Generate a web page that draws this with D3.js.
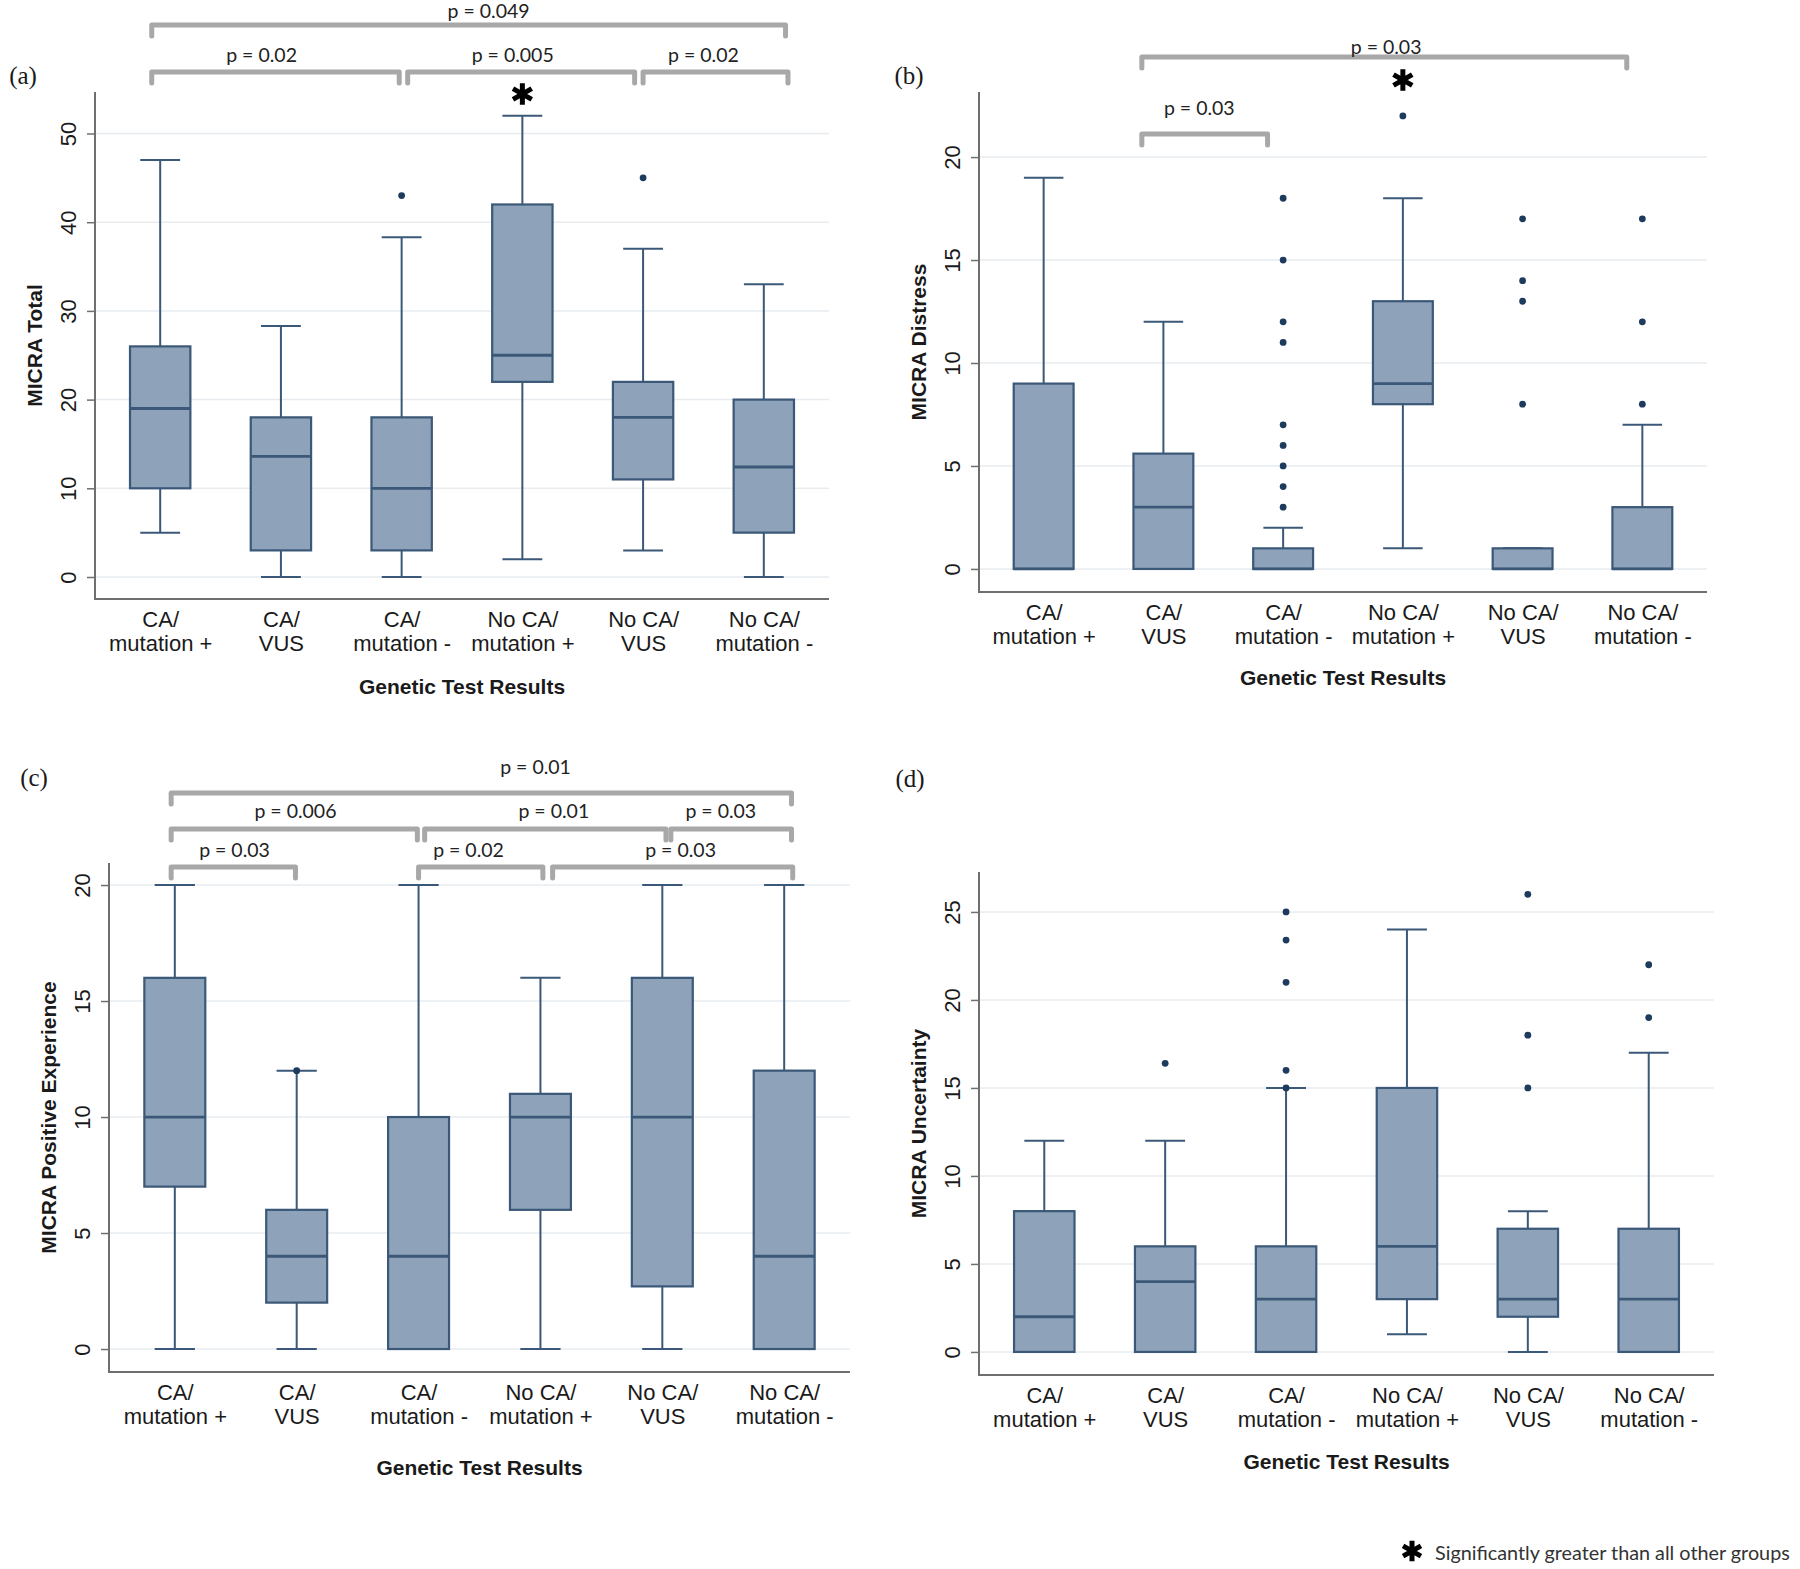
<!DOCTYPE html>
<html><head><meta charset="utf-8">
<script src="https://cdn.jsdelivr.net/npm/d3@7"></script>
<style>body{margin:0;background:#fff}</style>
</head><body>
<svg id="chart" width="1800" height="1569"></svg>
<script>
// ---------- DATA ----------
const categories = [["CA/","mutation +"],["CA/","VUS"],["CA/","mutation -"],["No CA/","mutation +"],["No CA/","VUS"],["No CA/","mutation -"]];

// each row: [lower whisker, Q1, median, Q3, upper whisker]
const totalStats = [[5,10,19,26,47],[0,3,13.6,18,28.3],[0,3,10,18,38.3],[2,22,25,42,52],[3,11,18,22,37],[0,5,12.4,20,33]];
const totalOutliers = [[],[],[43],[],[45],[]];
const totalTicks = [0,10,20,30,40,50];

const distressStats = [[0,0,0,9,19],[0,0,3,5.6,12],[0,0,0,1,2],[1,8,9,13,18],[0,0,0,1,1],[0,0,0,3,7]];
const distressOutliers = [[],[],[3,4,5,6,7,11,12,15,18],[22],[8,13,14,17],[8,12,17]];
const distressTicks = [0,5,10,15,20];

const positiveStats = [[0,7,10,16,20],[0,2,4,6,12],[0,0,4,10,20],[0,6,10,11,16],[0,2.7,10,16,20],[0,0,4,12,20]];
const positiveOutliers = [[],[12],[],[],[],[]];
const positiveTicks = [0,5,10,15,20];

const uncertaintyStats = [[0,0,2,8,12],[0,0,4,6,12],[0,0,3,6,15],[1,3,6,15,24],[0,2,3,7,8],[0,0,3,7,17]];
const uncertaintyOutliers = [[],[16.4],[15,16,21,23.4,25],[],[15,18,26],[19,22]];
const uncertaintyTicks = [0,5,10,15,20,25];

// significance brackets: [from (category index), to (category index), level, label, label position (category index)]
const totalBrackets = [[-0.07,5.18,0,"p = 0.049",2.72],[-0.07,1.98,1,"p = 0.02",0.84],[2.05,3.93,1,"p = 0.005",2.92],[4.0,5.2,1,"p = 0.02",4.5]];
const distressBrackets = [[0.82,4.87,0,"p = 0.03",2.86],[0.82,1.87,1,"p = 0.03",1.3]];
const positiveBrackets = [[-0.03,5.06,0,"p = 0.01",2.96],[-0.03,1.99,1,"p = 0.006",0.99],[2.05,4.03,1,"p = 0.01",3.11],[4.07,5.06,1,"p = 0.03",4.48],
                          [-0.03,0.99,2,"p = 0.03",0.49],[2.0,3.02,2,"p = 0.02",2.41],[3.1,5.07,2,"p = 0.03",4.15]];
const uncertaintyBrackets = [];

const panelLetters = ["(a)","(b)","(c)","(d)"];
const yTitles = ["MICRA Total","MICRA Distress","MICRA Positive Experience","MICRA Uncertainty"];
const xTitle = "Genetic Test Results";
const footnote = "Significantly greater than all other groups";

// ---------- STYLE / LAYOUT ----------
const BOX_FILL = "#8ea3b9", BOX_LINE = "#3b5878", DOT = "#1d3b5d", AXIS = "#6f6f6f", GRID = "#e8ecef", BRACKET = "#a8a8a8", TEXT = "#1a1a1a";
const SANS = "'Liberation Sans', Arial, sans-serif";
const PFONT = "Lato, 'Open Sans', sans-serif";

const panels = [
  {stats: totalStats, outliers: totalOutliers, ticks: totalTicks, brackets: totalBrackets, star: 3,
   L:{left:95,right:829,top:92,axisY:599,yDom:[-2.48,54.68],letter:[23,75],yTitleX:34,xTitleY:686,levels:[25,72],textY:[10,54],starY:94}},
  {stats: distressStats, outliers: distressOutliers, ticks: distressTicks, brackets: distressBrackets, star: 3,
   L:{left:979,right:1707,top:92,axisY:592,yDom:[-1.12,23.16],letter:[909,75],yTitleX:918,xTitleY:677,levels:[57,134],textY:[46,107],starY:80}},
  {stats: positiveStats, outliers: positiveOutliers, ticks: positiveTicks, brackets: positiveBrackets, star: null,
   L:{left:109,right:850,top:863,axisY:1372,yDom:[-0.99,20.95],letter:[34,777],yTitleX:48,xTitleY:1467,levels:[793,829,867],textY:[766,810,849]}},
  {stats: uncertaintyStats, outliers: uncertaintyOutliers, ticks: uncertaintyTicks, brackets: uncertaintyBrackets, star: null,
   L:{left:979,right:1714,top:872,axisY:1375,yDom:[-1.31,27.27],letter:[910,778],yTitleX:918,xTitleY:1461,levels:[],textY:[]}}
];

const svg = d3.select("#chart");
const star = d3.symbol().type(d3.symbolAsterisk);

panels.forEach((p, pi) => {
  const L = p.L;
  const g = svg.append("g");
  const x = d3.scalePoint().domain(d3.range(categories.length)).range([L.left, L.right]).padding(0.54);
  const y = d3.scaleLinear().domain(L.yDom).range([L.axisY, L.top]);
  const step = x.step();
  const xf = f => x(0) + f * step;
  const bw = step * 0.5, cw = step * 0.33;

  // gridlines
  g.append("g").selectAll("line").data(p.ticks).join("line")
    .attr("x1", L.left).attr("x2", L.right).attr("y1", d => y(d)).attr("y2", d => y(d))
    .attr("stroke", GRID).attr("stroke-width", 1.5);

  // y axis
  const ya = g.append("g").attr("transform", `translate(${L.left},0)`)
    .call(d3.axisLeft(y).tickValues(p.ticks).tickSize(8).tickPadding(0).tickFormat(d3.format("d")));
  ya.select(".domain").attr("stroke", AXIS).attr("stroke-width", 2).attr("d", `M0,${L.top}V${L.axisY}`);
  ya.selectAll(".tick line").attr("stroke", AXIS).attr("stroke-width", 1.5);
  ya.selectAll(".tick text").attr("fill", TEXT).attr("font-family", SANS).attr("font-size", 22)
    .attr("x", null).attr("dy", null)
    .attr("text-anchor", "middle").attr("dominant-baseline", "central")
    .attr("transform", "translate(-27,0) rotate(-90)");

  // x axis
  const xa = g.append("g").attr("transform", `translate(0,${L.axisY})`)
    .call(d3.axisBottom(x).tickSize(0).tickFormat(""));
  xa.select(".domain").attr("stroke", AXIS).attr("stroke-width", 2).attr("d", `M${L.left - 1},0H${L.right}`);
  xa.selectAll(".tick").each(function(d) {
    const t = d3.select(this).select("text").attr("fill", TEXT).attr("font-family", SANS).attr("font-size", 22)
      .attr("y", 0).attr("dy", null).attr("text-anchor", "middle");
    t.text(null);
    categories[d].forEach((s, k) => t.append("tspan").attr("x", 0).attr("y", 28 + k * 24).text(s));
  });

  // whiskers
  const wg = g.append("g").attr("stroke", BOX_LINE).attr("stroke-width", 2);
  p.stats.forEach((s, i) => {
    const cx = x(i);
    wg.append("line").attr("x1", cx).attr("x2", cx).attr("y1", y(s[0])).attr("y2", y(s[4]));
    wg.append("line").attr("x1", cx - cw/2).attr("x2", cx + cw/2).attr("y1", y(s[0])).attr("y2", y(s[0]));
    wg.append("line").attr("x1", cx - cw/2).attr("x2", cx + cw/2).attr("y1", y(s[4])).attr("y2", y(s[4]));
  });
  // boxes
  g.append("g").selectAll("rect").data(p.stats).join("rect")
    .attr("x", (d, i) => x(i) - bw/2).attr("width", bw)
    .attr("y", d => y(d[3])).attr("height", d => y(d[1]) - y(d[3]))
    .attr("fill", BOX_FILL).attr("stroke", BOX_LINE).attr("stroke-width", 2.2);
  // medians
  g.append("g").selectAll("line").data(p.stats).join("line")
    .attr("x1", (d, i) => x(i) - bw/2).attr("x2", (d, i) => x(i) + bw/2)
    .attr("y1", d => y(d[2])).attr("y2", d => y(d[2]))
    .attr("stroke", BOX_LINE).attr("stroke-width", 2.8);
  // outliers
  const pts = [];
  p.outliers.forEach((arr, i) => arr.forEach(v => pts.push([i, v])));
  g.append("g").selectAll("circle").data(pts).join("circle")
    .attr("cx", d => x(d[0])).attr("cy", d => y(d[1])).attr("r", 3.4).attr("fill", DOT);

  // brackets
  const bg = g.append("g");
  p.brackets.forEach(b => {
    const x1 = xf(b[0]), x2 = xf(b[1]), yy = L.levels[b[2]];
    bg.append("path").attr("d", `M${x1},${yy + 11}V${yy}H${x2}V${yy + 11}`)
      .attr("fill", "none").attr("stroke", BRACKET).attr("stroke-width", 5)
      .attr("stroke-linejoin", "round").attr("stroke-linecap", "round");
    bg.append("text").attr("x", xf(b[4])).attr("y", L.textY[b[2]])
      .attr("text-anchor", "middle").attr("dominant-baseline", "central")
      .attr("font-family", PFONT).attr("font-size", 19.5).attr("fill", "#222").text(b[3]);
  });

  // significance star
  if (p.star !== null) {
    g.append("path").attr("d", star.size(330)())
      .attr("transform", `translate(${x(p.star)},${L.starY})`)
      .attr("fill", "none").attr("stroke", "#000").attr("stroke-width", 5);
  }

  // titles
  g.append("text").attr("x", L.letter[0]).attr("y", L.letter[1])
    .attr("text-anchor", "middle").attr("dominant-baseline", "central")
    .attr("font-family", "'Liberation Serif', 'DejaVu Serif', serif").attr("font-size", 25).attr("fill", TEXT)
    .text(panelLetters[pi]);
  g.append("text").attr("transform", `translate(${L.yTitleX},${(L.top + L.axisY) / 2}) rotate(-90)`)
    .attr("text-anchor", "middle").attr("dominant-baseline", "central")
    .attr("font-family", SANS).attr("font-weight", "bold").attr("font-size", 21).attr("fill", TEXT)
    .text(yTitles[pi]);
  g.append("text").attr("x", (L.left + L.right) / 2).attr("y", L.xTitleY)
    .attr("text-anchor", "middle").attr("dominant-baseline", "central")
    .attr("font-family", SANS).attr("font-weight", "bold").attr("font-size", 21).attr("fill", TEXT)
    .text(xTitle);
});

// footnote
svg.append("path").attr("d", star.size(300)()).attr("transform", "translate(1412,1551)")
  .attr("fill", "none").attr("stroke", "#000").attr("stroke-width", 5);
svg.append("text").attr("x", 1435).attr("y", 1552).attr("dominant-baseline", "central")
  .attr("font-family", PFONT).attr("font-size", 19.8).attr("fill", "#333").text(footnote);
</script>
</body></html>
